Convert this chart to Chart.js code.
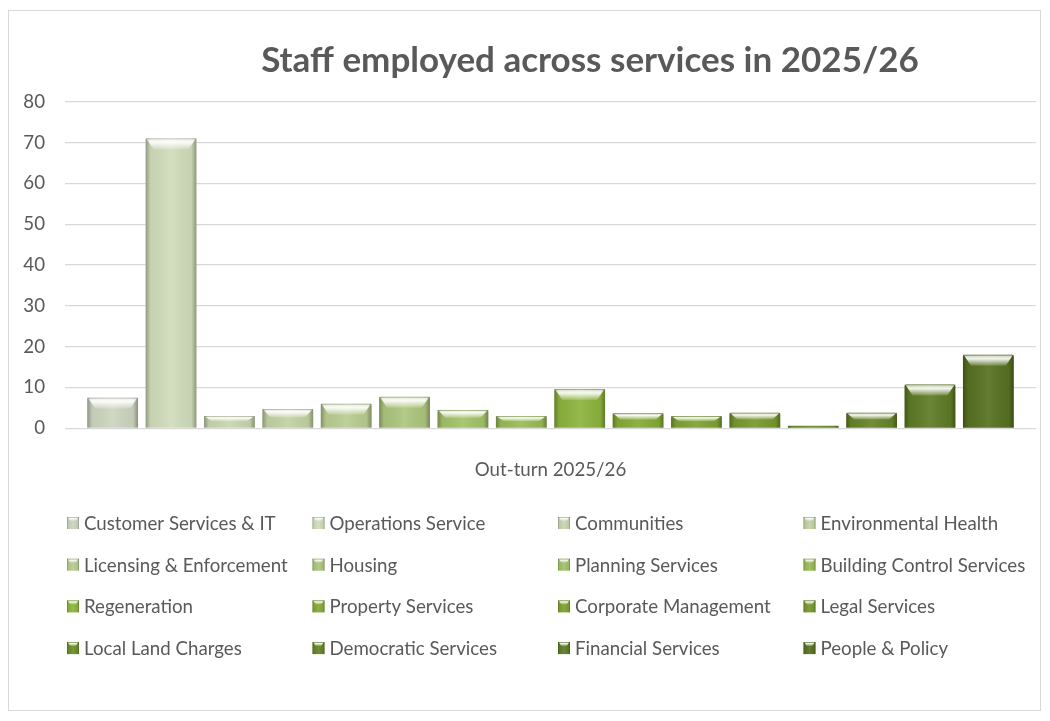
<!DOCTYPE html>
<html>
<head>
<meta charset="utf-8">
<title>Staff employed across services in 2025/26</title>
<script src="https://cdn.jsdelivr.net/npm/chart.js@4/dist/chart.umd.min.js"></script>
<style>
  html, body { margin: 0; padding: 0; background: #ffffff; }
  #wrap { width: 1050px; height: 721px; }
</style>
</head>
<body>
<div id="wrap"><canvas id="chart" width="1050" height="721"></canvas></div>
<script>
// Headcount by service for the 2025/26 out-turn
const categories = ['Out-turn 2025/26'];
const services = [
  'Customer Services & IT', 'Operations Service', 'Communities', 'Environmental Health',
  'Licensing & Enforcement', 'Housing', 'Planning Services', 'Building Control Services',
  'Regeneration', 'Property Services', 'Corporate Management', 'Legal Services',
  'Local Land Charges', 'Democratic Services', 'Financial Services', 'People & Policy'
];
const staff = [7.5, 71, 3, 4.7, 6, 7.7, 4.5, 3, 9.6, 3.7, 3, 3.8, 0.6, 3.8, 10.7, 18];
const yTickValues = [0, 10, 20, 30, 40, 50, 60, 70, 80];

// Green shades, light to dark
const palette = [
  '#cdd5c0', '#d0ddbb', '#c9d6b0', '#c3d3a3',
  '#b9cd91', '#adc67e', '#a3c26a', '#99bb55',
  '#8db43e', '#85ab36', '#7ea232', '#76992e',
  '#6d8d2a', '#668428', '#5e7b25', '#567121'
];

const FONT = 'Lato, "Open Sans", sans-serif';
const TEXT = '#595959';

// Paint a bevelled block (lit top edge, shaded sides) over a filled rectangle
function bevelBlock(ctx, l, t, w, h, depth, side) {
  const r = l + w;
  let g = ctx.createLinearGradient(l, 0, r, 0);
  g.addColorStop(0, 'rgba(0,0,0,0.30)');
  g.addColorStop(Math.min(0.12, side / w), 'rgba(0,0,0,0.05)');
  g.addColorStop(0.5, 'rgba(255,255,255,0.08)');
  g.addColorStop(1 - Math.min(0.12, side / w), 'rgba(0,0,0,0.05)');
  g.addColorStop(1, 'rgba(0,0,0,0.32)');
  ctx.fillStyle = g;
  ctx.fillRect(l, t, w, h);
  const d = Math.min(depth, h / 2.2);
  if (d < 1) return;
  g = ctx.createLinearGradient(0, t, 0, t + d);
  g.addColorStop(0, 'rgba(255,255,255,0.65)');
  g.addColorStop(0.35, 'rgba(255,255,255,0.92)');
  g.addColorStop(1, 'rgba(255,255,255,0.12)');
  ctx.fillStyle = g;
  ctx.beginPath();
  ctx.moveTo(l + 1, t + 0.5);
  ctx.lineTo(r - 1, t + 0.5);
  ctx.lineTo(r - side * 1.6, t + d);
  ctx.lineTo(l + side * 1.6, t + d);
  ctx.closePath();
  ctx.fill();
  ctx.fillStyle = 'rgba(0,0,0,0.14)';
  ctx.fillRect(l, t, w, 1);
}

const frame = {
  id: 'frame',
  beforeDraw(chart) {
    const ctx = chart.ctx;
    ctx.save();
    ctx.fillStyle = '#ffffff';
    ctx.fillRect(0, 0, chart.width, chart.height);
    ctx.strokeStyle = '#d9d9d9';
    ctx.lineWidth = 1;
    ctx.strokeRect(8.5, 10.5, 1032, 700);
    ctx.restore();
  }
};

const heading = {
  id: 'heading',
  afterDraw(chart) {
    const ctx = chart.ctx;
    ctx.save();
    ctx.fillStyle = TEXT;
    ctx.font = 'bold 35px ' + FONT;
    ctx.textAlign = 'center';
    ctx.textBaseline = 'alphabetic';
    ctx.fillText('Staff employed across services in 2025/26', 590, 72);
    ctx.restore();
  }
};

const bevel = {
  id: 'bevel',
  afterDatasetsDraw(chart) {
    const ctx = chart.ctx;
    ctx.save();
    chart.data.datasets.forEach((ds, i) => {
      const meta = chart.getDatasetMeta(i);
      if (meta.hidden) return;
      meta.data.forEach(bar => {
        const p = bar.getProps(['x', 'y', 'base', 'width'], true);
        const h = p.base - p.y;
        if (h <= 0) return;
        bevelBlock(ctx, p.x - p.width / 2, p.y, p.width, h, 11, 5);
      });
    });
    ctx.restore();
  }
};

// Four-column legend below the plot
const gridLegend = {
  id: 'gridLegend',
  afterDraw(chart) {
    const ctx = chart.ctx;
    const cols = 4, x0 = 67, colW = 245.5, y0 = 523, rowH = 41.7;
    ctx.save();
    ctx.font = '18.7px ' + FONT;
    ctx.textBaseline = 'middle';
    ctx.textAlign = 'left';
    chart.data.datasets.forEach((ds, i) => {
      const cx = x0 + (i % cols) * colW;
      const cy = y0 + Math.floor(i / cols) * rowH;
      ctx.fillStyle = ds.backgroundColor;
      ctx.fillRect(cx, cy - 6, 12, 12);
      bevelBlock(ctx, cx, cy - 6, 12, 12, 4, 2);
      ctx.fillStyle = TEXT;
      ctx.fillText(ds.label, cx + 17, cy + 1);
    });
    ctx.restore();
  }
};

new Chart(document.getElementById('chart'), {
  type: 'bar',
  data: {
    labels: categories,
    datasets: services.map((name, i) => ({
      label: name,
      data: [staff[i]],
      backgroundColor: palette[i],
      borderWidth: 0,
      borderRadius: { topLeft: 2, topRight: 2 },
      borderSkipped: 'bottom',
      categoryPercentage: 0.962,
      barPercentage: 0.87
    }))
  },
  options: {
    responsive: false,
    animation: false,
    layout: { padding: { top: 101.7, left: 0, right: 14, bottom: 0 } },
    plugins: {
      legend: { display: false },
      title: { display: false },
      tooltip: { enabled: false }
    },
    scales: {
      x: {
        grid: { display: false },
        border: { display: false },
        ticks: { color: TEXT, font: { family: FONT, size: 18.7 }, padding: 22 },
        afterFit(scale) { scale.height = 721 - 428.3; }
      },
      y: {
        min: 0,
        max: 80,
        afterBuildTicks(scale) { scale.ticks = yTickValues.map(v => ({ value: v })); },
        grid: { color: '#d9d9d9', lineWidth: 1.3, drawTicks: false },
        border: { display: false },
        ticks: { color: TEXT, font: { family: FONT, size: 18.7 }, padding: 20 },
        afterFit(scale) { scale.width = 65; }
      }
    }
  },
  plugins: [frame, bevel, heading, gridLegend]
});
</script>
</body>
</html>
